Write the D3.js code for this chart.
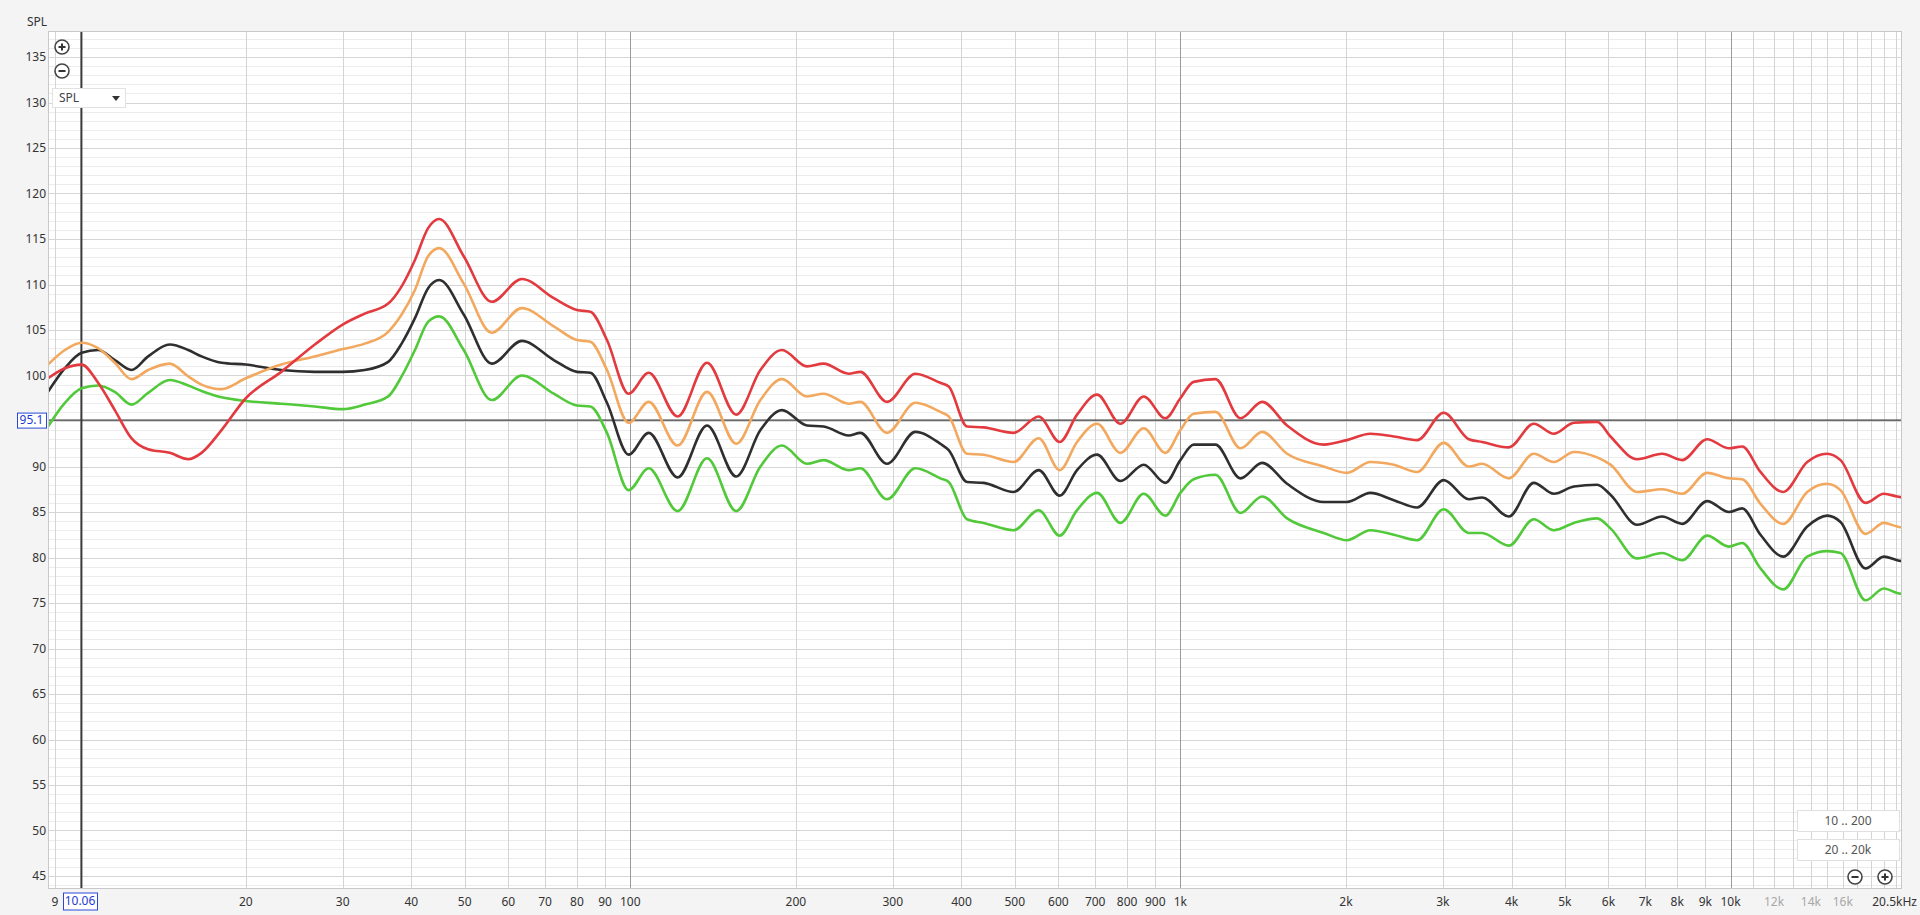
<!DOCTYPE html>
<html>
<head>
<meta charset="utf-8">
<script src="https://cdn.jsdelivr.net/npm/d3@7"></script>
<style>
  html, body { margin: 0; padding: 0; background: #f4f4f4; overflow: hidden; }
  svg { display: block; font-family: "Noto Sans", "Open Sans", sans-serif; }
</style>
</head>
<body>
<div id="chart"></div>
<script>
// Frequencies (Hz) the four traces were read at
const freqs = [
  8.74, 9.38, 10.06, 10.78, 11.56, 12.4, 13.29, 14.55, 15.72, 16.62, 18.07, 20, 23.2, 26.7, 30, 32.9, 36.3, 38.4, 40.6, 42.9,
  44.95, 49.8, 56, 63.5, 72.6, 80, 84.6, 90.7, 99.3, 108, 121.9, 137.9, 155.8, 172.4, 188.7,
  209.5, 224.6, 249.4, 261.9, 292.9, 329.8, 366.1, 379.2, 409.4, 438.9, 497.7, 552.6, 603.4, 648.8, 705.6, 778.1, 857.7, 939.1,
  1000, 1057, 1158, 1286, 1408, 1563, 1822, 2008, 2215, 2443, 2694, 3011, 3344, 3536, 3954, 4389,
  4773, 5191, 5723, 6050, 6766, 7512, 8169, 9070, 9931, 10500, 11337, 12470, 13786, 14990, 15849, 17600, 19003, 20090, 20500
];

// SPL values (dB) for each trace
const redSpl = [
  99.7, 100.8, 101.2, 99.2, 96.2, 93.1, 91.9, 91.5, 90.8, 91.5, 94.0, 97.5, 100.4, 103.4, 105.6, 106.8, 107.9, 109.8, 112.7, 116.2,
  117.2, 113.1, 108.1, 110.6, 108.5, 107.2, 107.0, 103.9, 98.0, 100.3, 95.5, 101.4, 95.7, 100.6, 102.8,
  101.0, 101.3, 100.2, 100.4, 97.1, 100.2, 99.2, 98.8, 94.4, 94.3, 93.7, 95.5, 92.7, 95.7, 97.9, 94.7, 97.7, 95.3,
  97.5, 99.3, 99.6, 95.3, 97.1, 94.5, 92.4, 92.9, 93.6, 93.3, 92.9, 95.9, 93.0, 92.7, 92.1, 94.7,
  93.6, 94.8, 94.9, 93.3, 90.8, 91.4, 90.7, 93.0, 92.0, 92.2, 89.4, 87.2, 90.5, 91.4, 90.7, 86.0, 87.0, 86.7, 86.6
];
const orangeSpl = [
  101.2, 102.8, 103.6, 103.0, 101.4, 99.6, 100.6, 101.3, 99.9, 99.0, 98.5, 99.7, 101.2, 102.1, 102.9, 103.5, 104.8, 106.7, 109.4, 113.1,
  114.0, 110.1, 104.7, 107.4, 105.4, 103.9, 103.7, 100.6, 94.8, 97.1, 92.3, 98.2, 92.5, 97.3, 99.6,
  97.7, 98.0, 96.9, 97.1, 93.7, 97.0, 96.0, 95.5, 91.4, 91.3, 90.5, 93.1, 89.6, 92.7, 94.7, 91.5, 94.2, 91.5,
  94.0, 95.8, 96.0, 92.0, 93.8, 91.4, 90.0, 89.3, 90.5, 90.2, 89.4, 92.6, 90.0, 90.3, 88.7, 91.4,
  90.5, 91.6, 91.0, 90.2, 87.2, 87.5, 87.0, 89.3, 88.7, 88.6, 85.9, 83.7, 87.2, 88.1, 87.4, 82.6, 83.8, 83.4, 83.3
];
const blackSpl = [
  98.2, 100.8, 102.5, 102.8, 101.7, 100.6, 102.1, 103.4, 102.8, 102.1, 101.4, 101.2, 100.6, 100.4, 100.4, 100.6, 101.5, 103.5, 106.3, 109.6,
  110.5, 106.7, 101.3, 103.8, 101.7, 100.4, 100.3, 97.0, 91.3, 93.7, 88.8, 94.5, 88.9, 94.0, 96.2,
  94.5, 94.4, 93.4, 93.7, 90.3, 93.8, 92.5, 91.8, 88.3, 88.2, 87.2, 89.6, 86.8, 89.6, 91.3, 88.4, 90.2, 88.2,
  90.7, 92.4, 92.4, 88.7, 90.4, 88.1, 86.1, 86.1, 87.1, 86.3, 85.5, 88.5, 86.4, 86.6, 84.5, 88.2,
  87.0, 87.8, 88.0, 86.9, 83.6, 84.5, 83.7, 86.2, 85.0, 85.4, 82.5, 80.1, 83.4, 84.6, 83.9, 78.8, 80.1, 79.7, 79.6
];
const greenSpl = [
  94.4, 97.0, 98.6, 98.9, 98.2, 96.8, 98.1, 99.5, 98.9, 98.3, 97.6, 97.2, 96.9, 96.6, 96.3, 96.8, 97.7, 99.9, 102.8, 105.9,
  106.5, 102.8, 97.3, 100.0, 98.0, 96.7, 96.6, 93.7, 87.4, 89.8, 85.1, 90.9, 85.1, 90.0, 92.3,
  90.3, 90.7, 89.6, 89.8, 86.4, 89.8, 88.7, 88.3, 84.2, 83.8, 83.0, 85.2, 82.4, 85.2, 87.1, 83.8, 87.0, 84.6,
  87.1, 88.6, 89.1, 84.9, 86.7, 84.3, 82.7, 81.9, 83.0, 82.5, 81.9, 85.3, 82.7, 82.7, 81.3, 84.2,
  83.0, 83.8, 84.3, 83.2, 79.9, 80.5, 79.7, 82.4, 81.2, 81.6, 78.8, 76.5, 80.1, 80.7, 80.5, 75.3, 76.6, 76.1, 76.0
];

// Axis ticks (95 sits under the cursor readout, so it is not shown)
const yTickValues = [45, 50, 55, 60, 65, 70, 75, 80, 85, 90, 100, 105, 110, 115, 120, 125, 130, 135];
const xTickValues = [9, 20, 30, 40, 50, 60, 70, 80, 90, 100, 200, 300, 400, 500, 600, 700, 800, 900,
  1000, 2000, 3000, 4000, 5000, 6000, 7000, 8000, 9000, 10000, 12000, 14000, 16000];
const xTickLabels = ["9", "20", "30", "40", "50", "60", "70", "80", "90", "100", "200", "300", "400", "500", "600", "700", "800", "900",
  "1k", "2k", "3k", "4k", "5k", "6k", "7k", "8k", "9k", "10k", "12k", "14k", "16k"];
const greyLabels = ["12k", "14k", "16k"];

const cursorFreq = 10.06;
const cursorSpl = 95.1;

const series = [
  {name: "green", values: greenSpl, color: "#52c93a"},
  {name: "black", values: blackSpl, color: "#2f2f2f"},
  {name: "orange", values: orangeSpl, color: "#f2a85e"},
  {name: "red", values: redSpl, color: "#e23a3f"}
];

const W = 1920, H = 915;
const plot = {left: 48, right: 1902, top: 31, bottom: 889};

const svg = d3.select("#chart")
  .append("svg")
  .attr("width", W)
  .attr("height", H);

svg.append("rect").attr("width", W).attr("height", H).attr("fill", "#f4f4f4");

// Scales
const x = d3.scaleLog()
  .domain([8.74, 20500])
  .range([plot.left, plot.right]);

const y = d3.scaleLinear()
  .domain([45, 135])
  .range([876, 57]);

// Plot background
svg.append("rect")
  .attr("x", plot.left).attr("y", plot.top)
  .attr("width", plot.right - plot.left)
  .attr("height", plot.bottom - plot.top)
  .attr("fill", "#ffffff");

svg.append("clipPath").attr("id", "clip")
  .append("rect")
  .attr("x", plot.left).attr("y", plot.top)
  .attr("width", plot.right - plot.left)
  .attr("height", plot.bottom - plot.top);

const grid = svg.append("g").attr("clip-path", "url(#clip)");

// Horizontal grid, 1 dB minor and 5 dB major
d3.range(43, 139).forEach(v => {
  grid.append("line")
    .attr("x1", plot.left).attr("x2", plot.right)
    .attr("y1", Math.round(y(v)) + 0.5).attr("y2", Math.round(y(v)) + 0.5)
    .attr("stroke", v % 5 === 0 ? "#d6d6d6" : "#ececec")
    .attr("stroke-width", 1);
});

// Vertical grid
const gridFreqs = [];
[1, 10, 100, 1000].forEach(dec => {
  for (let m = 1; m <= 9; m++) gridFreqs.push({f: m * dec, major: m === 1});
});
for (let k = 10; k <= 20; k++) gridFreqs.push({f: k * 1000, major: k === 10});

grid.selectAll(".vgrid")
  .data(gridFreqs.filter(d => d.f >= 9 && d.f <= 20500))
  .enter()
  .append("line")
  .attr("x1", d => Math.round(x(d.f)) + 0.5)
  .attr("x2", d => Math.round(x(d.f)) + 0.5)
  .attr("y1", plot.top).attr("y2", plot.bottom)
  .attr("stroke", d => d.major ? "#9a9a9a" : "#d4d4d4")
  .attr("stroke-width", 1);

// Plot border
svg.append("rect")
  .attr("x", plot.left + 0.5).attr("y", plot.top + 0.5)
  .attr("width", plot.right - plot.left - 1)
  .attr("height", plot.bottom - plot.top - 1)
  .attr("fill", "none")
  .attr("stroke", "#c8c8c8");

// Cursor lines
grid.append("line")
  .attr("x1", plot.left).attr("x2", plot.right)
  .attr("y1", y(cursorSpl)).attr("y2", y(cursorSpl))
  .attr("stroke", "#3a3a3a").attr("stroke-width", 1.2);

grid.append("line")
  .attr("x1", x(cursorFreq)).attr("x2", x(cursorFreq))
  .attr("y1", plot.top).attr("y2", plot.bottom)
  .attr("stroke", "#3a3a3a").attr("stroke-width", 1.6);

// Traces
const line = d3.line()
  .x((d, i) => x(freqs[i]))
  .y(d => y(d))
  .curve(d3.curveMonotoneX);

grid.selectAll(".trace")
  .data(series)
  .enter()
  .append("path")
  .attr("class", "trace")
  .attr("d", d => line(d.values))
  .attr("fill", "none")
  .attr("stroke", d => d.color)
  .attr("stroke-width", 2.6)
  .attr("stroke-linejoin", "round");

// Y axis labels
svg.selectAll(".ylab")
  .data(yTickValues)
  .enter()
  .append("text")
  .attr("x", 46)
  .attr("y", d => y(d))
  .attr("dy", "0.35em")
  .attr("text-anchor", "end")
  .attr("font-size", 12)
  .attr("fill", "#333")
  .text(d => d);

svg.append("text")
  .attr("x", 27).attr("y", 26)
  .attr("font-size", 12).attr("fill", "#333")
  .text("SPL");

// X axis labels
svg.selectAll(".xlab")
  .data(xTickValues)
  .enter()
  .append("text")
  .attr("x", d => x(d))
  .attr("y", 906)
  .attr("text-anchor", "middle")
  .attr("font-size", 12)
  .attr("fill", (d, i) => greyLabels.includes(xTickLabels[i]) ? "#a8a8a8" : "#333")
  .text((d, i) => xTickLabels[i]);

svg.append("text")
  .attr("x", 1917).attr("y", 906)
  .attr("text-anchor", "end")
  .attr("font-size", 12).attr("fill", "#333")
  .text("20.5kHz");

// Cursor value boxes
function valueBox(cx, cy, w, h, label) {
  svg.append("rect")
    .attr("x", cx - w / 2 + 0.5).attr("y", cy - h / 2 + 0.5)
    .attr("width", w).attr("height", h)
    .attr("fill", "#fff")
    .attr("stroke", "#2a48d6").attr("stroke-width", 1);
  svg.append("text")
    .attr("x", cx).attr("y", cy)
    .attr("dy", "0.35em")
    .attr("text-anchor", "middle")
    .attr("font-size", 12).attr("fill", "#1d3ccf")
    .text(label);
}
valueBox(31.5, y(cursorSpl), 29, 15, "95.1");
valueBox(80, 901, 34, 17, "10.06");

// Round zoom buttons
function roundButton(cx, cy, plus) {
  const g = svg.append("g");
  g.append("circle").attr("cx", cx).attr("cy", cy).attr("r", 7)
    .attr("fill", "#fff").attr("stroke", "#444").attr("stroke-width", 1.6);
  g.append("line").attr("x1", cx - 3.5).attr("x2", cx + 3.5).attr("y1", cy).attr("y2", cy)
    .attr("stroke", "#333").attr("stroke-width", 2);
  if (plus) {
    g.append("line").attr("x1", cx).attr("x2", cx).attr("y1", cy - 3.5).attr("y2", cy + 3.5)
      .attr("stroke", "#333").attr("stroke-width", 2);
  }
}
roundButton(62, 47, true);
roundButton(62, 71, false);
roundButton(1855, 877, false);
roundButton(1885, 877, true);

// SPL dropdown
svg.append("rect")
  .attr("x", 52.5).attr("y", 88.5).attr("width", 73).attr("height", 19)
  .attr("fill", "#fff").attr("stroke", "#e2e2e2");
svg.append("text")
  .attr("x", 59).attr("y", 98).attr("dy", "0.35em")
  .attr("font-size", 12).attr("fill", "#444")
  .text("SPL");
svg.append("path")
  .attr("d", "M112,96 L120,96 L116,101 Z")
  .attr("fill", "#333");

// Range buttons bottom right
[["10 .. 200", 821], ["20 .. 20k", 850]].forEach(([label, cy]) => {
  svg.append("rect")
    .attr("x", 1797.5).attr("y", cy - 10.5).attr("width", 102).attr("height", 21)
    .attr("fill", "#fff").attr("stroke", "#e0e0e0");
  svg.append("text")
    .attr("x", 1848).attr("y", cy).attr("dy", "0.35em")
    .attr("text-anchor", "middle")
    .attr("font-size", 12).attr("fill", "#555")
    .text(label);
});
</script>
</body>
</html>
